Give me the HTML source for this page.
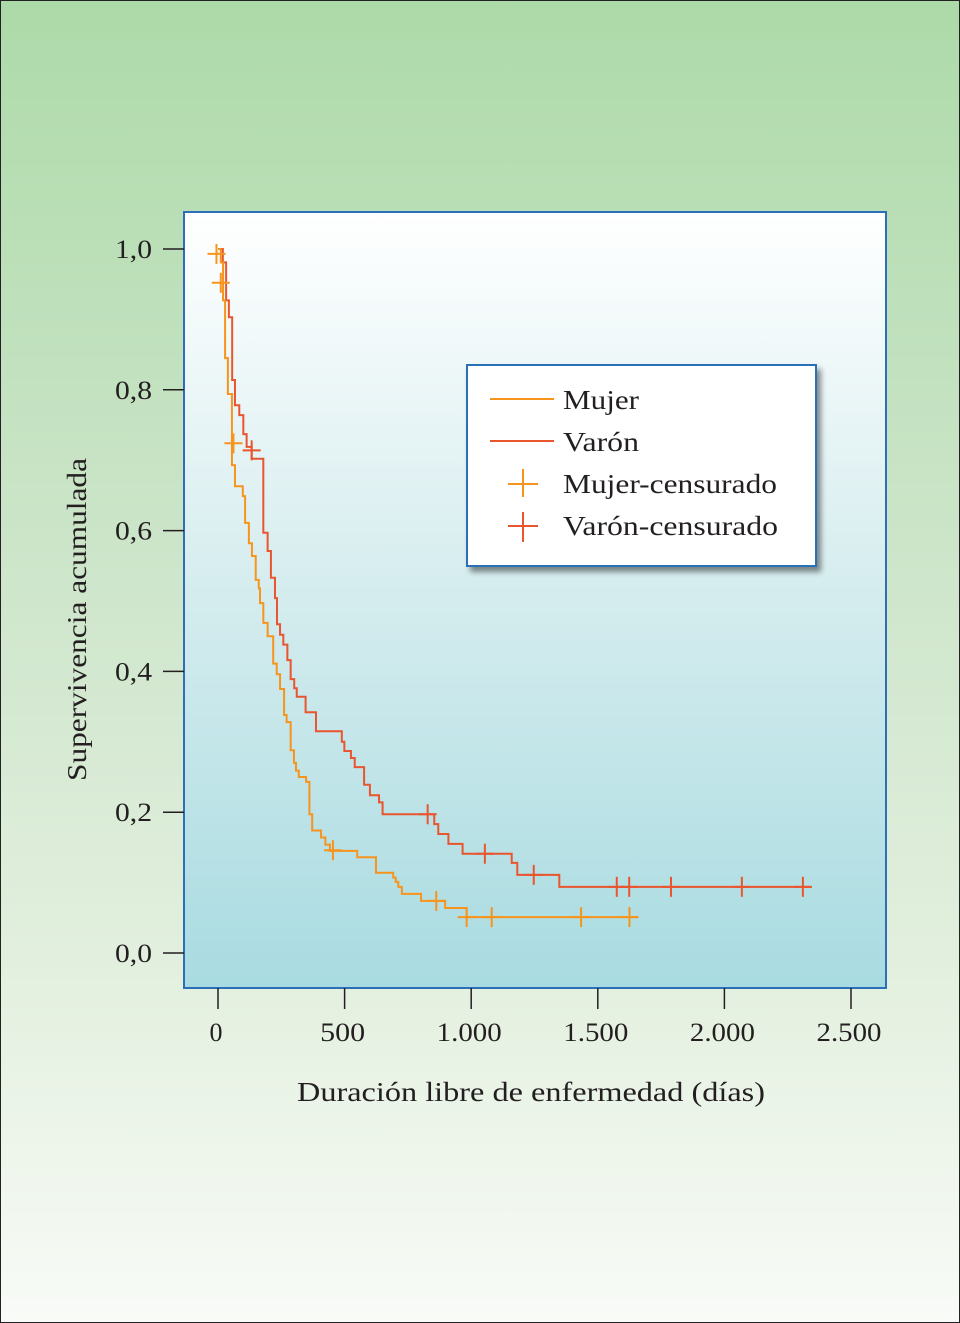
<!DOCTYPE html>
<html><head><meta charset="utf-8">
<style>
html,body{margin:0;padding:0;}
body{width:960px;height:1323px;overflow:hidden;font-family:"Liberation Serif",serif;}
#bg{position:absolute;left:0;top:0;width:958px;height:1321px;border:1px solid #222;background:linear-gradient(#addaa9 0%,#cfe6cc 45%,#e4f0e0 75%,#f8fbf7 100%);}
svg{position:absolute;left:0;top:0;}
</style></head>
<body>
<div id="bg"></div>
<svg id="chart" width="960" height="1323">
<defs>
<linearGradient id="pg" x1="0" y1="0" x2="0" y2="1">
<stop offset="0" stop-color="#ffffff"/><stop offset="0.5" stop-color="#d4ecee"/><stop offset="1" stop-color="#a8dbe1"/>
</linearGradient>
<filter id="sh" x="-10%" y="-10%" width="130%" height="130%"><feDropShadow dx="4" dy="5" stdDeviation="3" flood-color="#000" flood-opacity="0.45"/></filter>
</defs>
<rect x="184" y="212" width="702" height="776" fill="url(#pg)" stroke="#2b6fb6" stroke-width="2"/>
<g id="axes"></g>
<g id="series"></g>
<g>
<rect x="467" y="365" width="349" height="201" fill="#fff" stroke="#2b6fb6" stroke-width="2" filter="url(#sh)"/>
<g><line x1="490" y1="399" x2="554" y2="399" stroke="#f7941d" stroke-width="2"/><text x="563" y="409" font-size="27" fill="#231f20" textLength="76" lengthAdjust="spacingAndGlyphs">Mujer</text></g>
<g><line x1="490" y1="441" x2="554" y2="441" stroke="#e8552f" stroke-width="2"/><text x="563" y="451" font-size="27" fill="#231f20" textLength="76" lengthAdjust="spacingAndGlyphs">Varón</text></g>
<g><line x1="508" y1="484" x2="538" y2="484" stroke="#f7941d" stroke-width="2"/><line x1="523" y1="469" x2="523" y2="497" stroke="#f7941d" stroke-width="2"/><text x="563" y="493" font-size="27" fill="#231f20" textLength="214" lengthAdjust="spacingAndGlyphs">Mujer-censurado</text></g>
<g><line x1="508" y1="526" x2="538" y2="526" stroke="#e8552f" stroke-width="2"/><line x1="523" y1="512" x2="523" y2="542" stroke="#e8552f" stroke-width="2"/><text x="563" y="535" font-size="27" fill="#231f20" textLength="215" lengthAdjust="spacingAndGlyphs">Varón-censurado</text></g>
</g>
<text x="297" y="1101" font-size="27" fill="#231f20" textLength="468" lengthAdjust="spacingAndGlyphs">Duración libre de enfermedad (días)</text>
<text transform="translate(86,781) rotate(-90)" font-size="27" fill="#231f20" textLength="323" lengthAdjust="spacingAndGlyphs">Supervivencia acumulada</text>
</svg>
<script>
const xTicks=[0,500,1000,1500,2000,2500];
const xTickLabels=["0","500","1.000","1.500","2.000","2.500"];
const yTicks=[0,0.2,0.4,0.6,0.8,1.0];
const yTickLabels=["0,0","0,2","0,4","0,6","0,8","1,0"];
const mujerTimes=[0,11,20,28,39,55,67,98,107,122,134,149,161,166,179,196,218,232,245,261,271,287,300,308,319,348,361,372,407,424,442,550,624,692,702,712,726,802,897,982];
const mujerSurv=[1,0.981,0.927,0.845,0.794,0.693,0.663,0.649,0.611,0.582,0.564,0.530,0.518,0.497,0.469,0.450,0.411,0.396,0.375,0.338,0.328,0.288,0.270,0.259,0.250,0.243,0.197,0.174,0.164,0.154,0.145,0.136,0.114,0.107,0.101,0.094,0.084,0.074,0.064,0.051];
const mujerEnd=1660;
const mujerCensTimes=[-6,11,61,454,862,982,1081,1434,1625];
const mujerCensSurv=[0.993,0.952,0.724,0.146,0.074,0.051,0.051,0.051,0.051];
const varonTimes=[0,19,32,43,56,67,84,100,113,133,179,196,209,225,233,245,258,274,287,301,311,346,387,489,499,525,540,577,600,636,650,854,870,910,966,1160,1182,1348];
const varonSurv=[1,0.981,0.927,0.903,0.814,0.778,0.764,0.737,0.719,0.702,0.597,0.571,0.533,0.504,0.467,0.452,0.438,0.416,0.389,0.376,0.364,0.342,0.315,0.300,0.287,0.277,0.264,0.239,0.224,0.214,0.197,0.183,0.169,0.155,0.141,0.128,0.111,0.094];
const varonEnd=2342;
const varonCensTimes=[133,828,1054,1247,1575,1624,1789,2069,2310];
const varonCensSurv=[0.714,0.197,0.141,0.111,0.094,0.094,0.094,0.094,0.094];

const NS="http://www.w3.org/2000/svg";
function X(t){return 218+t*0.2532;}
function Y(s){return 953-s*704;}
function mk(tag,attrs,parent){const e=document.createElementNS(NS,tag);for(const k in attrs)e.setAttribute(k,attrs[k]);parent.appendChild(e);return e;}
const axes=document.getElementById('axes');
yTicks.forEach((v,i)=>{
  const l=mk('line',{x1:163,x2:184,y1:Y(v),y2:Y(v),stroke:'#231f20','stroke-width':1.5},axes);
  
  
  const t=mk('text',{x:115,y:Y(v)+9,'font-size':26,textLength:37,lengthAdjust:'spacingAndGlyphs',fill:'#231f20'},axes);
  t.textContent=yTickLabels[i];
  
  
});
xTicks.forEach((v,i)=>{
  const lab=xTickLabels[i];
  const w=lab.length===1?13:(lab.length===3?45:65);
  const l=mk('line',{x1:X(v),x2:X(v),y1:988,y2:1009,stroke:'#231f20','stroke-width':1.5},axes);
  
  
  const t=mk('text',{x:X(v)-2-w/2,y:1041,'font-size':26,textLength:w,lengthAdjust:'spacingAndGlyphs',fill:'#231f20'},axes);
  t.textContent=lab;
  
  
});
const ser=document.getElementById('series');
function curve(times,surv,end,color,name){
  let d='M'+X(times[0])+','+Y(surv[0]);
  for(let i=1;i<times.length;i++){d+=' H'+X(times[i])+' V'+Y(surv[i]);}
  d+=' H'+X(end);
  const p=mk('path',{d:d,fill:'none',stroke:color,'stroke-width':2},ser);
  
  
}
function cens(times,surv,color,name){
  times.forEach((t,i)=>{
    const g=mk('g',{},ser);
    
    
    const x=X(t),y=Y(surv[i]);
    mk('line',{x1:x-9,x2:x+9,y1:y,y2:y,stroke:color,'stroke-width':2},g);
    mk('line',{x1:x,x2:x,y1:y-10,y2:y+10,stroke:color,'stroke-width':2},g);
  });
}
curve(varonTimes,varonSurv,varonEnd,'#e8552f','varon-curve');
curve(mujerTimes,mujerSurv,mujerEnd,'#f7941d','mujer-curve');
cens(varonCensTimes,varonCensSurv,'#e8552f','varon-censored-mark');
cens(mujerCensTimes,mujerCensSurv,'#f7941d','mujer-censored-mark');
</script>
</body></html>
